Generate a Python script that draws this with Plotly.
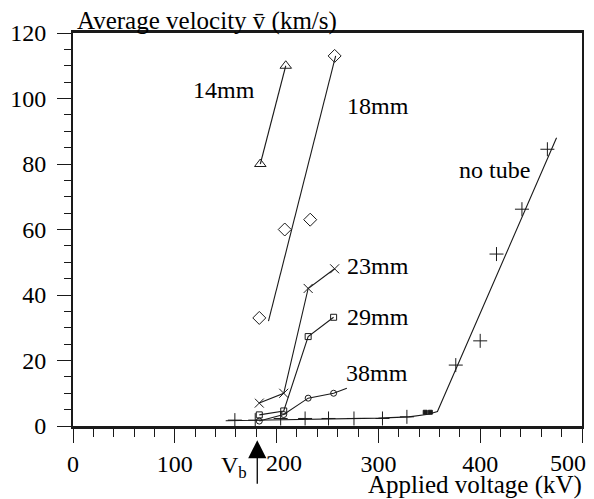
import plotly.graph_objects as go

FONT = "Liberation Serif"
INK = "#1a1a1a"

# ---- data (kV, km/s) ----
v14 = [184, 209]
u14 = [80, 110]

v18 = [183, 208, 233, 257]
u18 = [33, 60, 63, 113]
fit18_v = [192, 258]
fit18_u = [32, 113]

v23 = [183, 207, 231, 257]
u23 = [7, 10, 42, 48]

v29 = [183, 207, 231, 256]
u29 = [3.4, 4.6, 27.3, 33.2]

v38 = [183, 207, 231, 256]
u38 = [1.5, 3.5, 8.5, 10]
curve38_v = [183, 207, 231, 256, 269]
curve38_u = [1.5, 3.5, 8.5, 10, 11.5]

vnt = [159, 179, 204, 228, 251, 276, 304, 328, 376, 400, 416, 441, 466]
unt = [1.8, 1.8, 2.3, 2.3, 2.3, 2.3, 2.3, 2.8, 18.6, 26, 52.5, 66.2, 84.5]
vnt_sq = [346, 351]
unt_sq = [4.2, 4.2]
curvent_v = [150, 250, 300, 330, 349, 358, 475]
curvent_u = [1.6, 2.1, 2.4, 2.8, 3.6, 4.4, 88]

label_text = ["14mm", "18mm", "23mm", "29mm", "38mm", "no tube"]
label_v = [148.6, 300, 300, 300, 299, 414]
label_u = [102.6, 97.7, 48.9, 33.3, 16.2, 78.2]

x_ticks = [0, 100, 200, 300, 400, 500]
x_ticktext = ["0", "100", "", "300", "400", ""]
# labels drawn off-centre in the reference
shifted_text = ["200", "500"]
shifted_v = [207.6, 486]
y_ticks = [0, 20, 40, 60, 80, 100, 120]
vb = 181

fig = go.Figure()

def line(xs, ys):
    fig.add_trace(go.Scatter(x=xs, y=ys, mode="lines",
                             line=dict(color=INK, width=1.1), showlegend=False,
                             hoverinfo="skip"))

def marks(xs, ys, symbol, size):
    fig.add_trace(go.Scatter(x=xs, y=ys, mode="markers", showlegend=False,
                             marker=dict(symbol=symbol, size=size, color=INK,
                                         line=dict(color=INK, width=1))))

line(v14, u14); marks(v14, u14, "triangle-up-open", 10)
line(fit18_v, fit18_u); marks(v18, u18, "diamond-open", 10)
line(v23, u23); marks(v23, u23, "x-thin", 9)
line(v29, u29); marks(v29, u29, "square-open", 6)
line(curve38_v, curve38_u); marks(v38, u38, "circle-open", 6)
line(curvent_v, curvent_u); marks(vnt, unt, "cross-thin", 10)
marks(vnt_sq, unt_sq, "square", 4)

def tf(size=24):
    return dict(family=FONT, size=size, color="black")

ann = []
for t, x, y in zip(label_text, label_v, label_u):
    ann.append(dict(x=x, y=y, xref="x", yref="y", text=t, showarrow=False, font=tf()))

ann.append(dict(x=0.0045, y=1.031, xref="paper", yref="paper", xanchor="left",
                yanchor="middle", showarrow=False,
                text="Average velocity v\u0304 (km/s)", font=tf(25)))
ann.append(dict(x=1.004, y=-0.149, xref="paper", yref="paper", xanchor="right",
                yanchor="middle", showarrow=False, text="Applied voltage (kV)",
                font=tf(25)))
# V_b arrow
ann.append(dict(x=vb, y=-0.036, xref="x", yref="paper", text="", showarrow=True,
                ax=0, ay=45, arrowhead=2, arrowsize=2.8, arrowwidth=1.3,
                arrowcolor="black"))
ann.append(dict(x=173, y=-0.061, xref="x", yref="paper", xanchor="right",
                yanchor="top", showarrow=False, text="V<sub>b</sub>", font=tf()))
for t, x in zip(shifted_text, shifted_v):
    ann.append(dict(x=x, y=-0.055, xref="x", yref="paper", xanchor="center",
                    yanchor="top", showarrow=False, text=t, font=tf()))

# the page body has an 8 px margin, so the figure is 8 px smaller each way
fig.update_layout(
    template="none",
    width=586, height=491,
    margin=dict(l=65, r=12, t=25, b=73),
    paper_bgcolor="white", plot_bgcolor="white",
    annotations=ann,
    xaxis=dict(range=[0, 500], tickvals=x_ticks, ticktext=x_ticktext,
               ticks="outside", ticklen=14, tickwidth=1, tickcolor=INK,
               showline=True, linewidth=2.5, linecolor=INK, mirror=True,
               showgrid=False, zeroline=False,
               minor=dict(dtick=20, ticks="outside", ticklen=8, tickwidth=1,
                          tickcolor=INK, showgrid=False),
               tickfont=tf()),
    yaxis=dict(range=[0, 120], tickvals=y_ticks,
               ticks="outside", ticklen=14, tickwidth=1, tickcolor=INK,
               showline=True, linewidth=2, linecolor=INK, mirror=True,
               showgrid=False, zeroline=False, ticklabelstandoff=6,
               minor=dict(dtick=5, ticks="outside", ticklen=7, tickwidth=1,
                          tickcolor=INK, showgrid=False),
               tickfont=tf()),
)

fig.write_html("out.html")
